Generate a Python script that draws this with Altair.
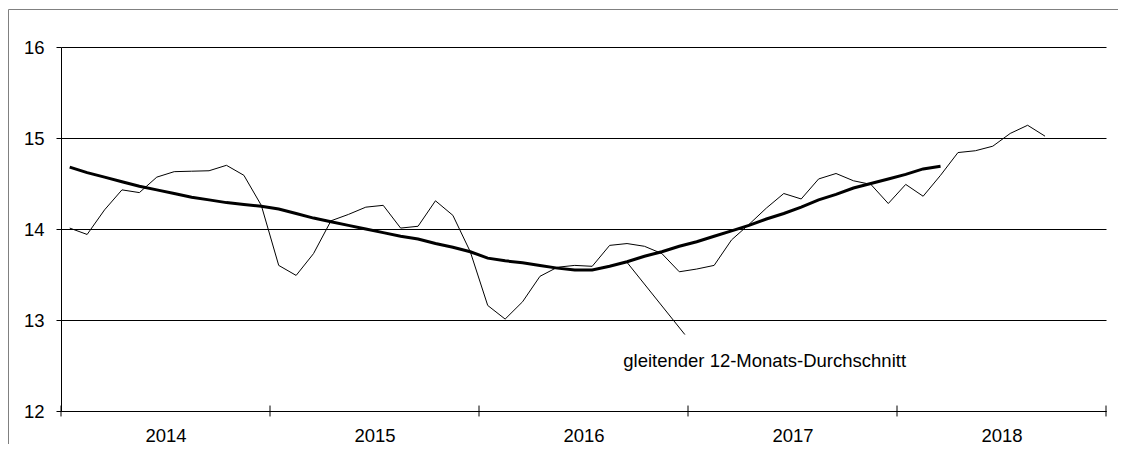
import altair as alt
import pandas as pd

years = ["2014", "2015", "2016", "2017", "2018"]
year_bounds = [0, 12, 24, 36, 48, 60]
year_centers = [6, 18, 30, 42, 54]
y_ticks = [12, 13, 14, 15, 16]

monthly = [14.01, 13.94, 14.21, 14.43, 14.40, 14.57, 14.63, 14.635, 14.64, 14.70, 14.59, 14.26,
           13.60, 13.49, 13.73, 14.09, 14.16, 14.24, 14.26, 14.01, 14.03, 14.31, 14.15, 13.75,
           13.16, 13.01, 13.20, 13.48, 13.58, 13.60, 13.59, 13.82, 13.84, 13.81, 13.73, 13.53,
           13.56, 13.60, 13.88, 14.05, 14.23, 14.39, 14.33, 14.55, 14.61, 14.53, 14.49, 14.28,
           14.49, 14.36, 14.59, 14.84, 14.86, 14.91, 15.05, 15.14, 15.02]

moving_avg = [14.68, 14.62, 14.57, 14.52, 14.47, 14.43, 14.39, 14.35, 14.32, 14.29, 14.27, 14.25,
              14.22, 14.17, 14.12, 14.08, 14.04, 14.00, 13.96, 13.92, 13.89, 13.84, 13.80, 13.75,
              13.68, 13.65, 13.63, 13.60, 13.57, 13.55, 13.55, 13.59, 13.64, 13.70, 13.75, 13.81,
              13.86, 13.92, 13.98, 14.04, 14.11, 14.17, 14.24, 14.32, 14.38, 14.45, 14.50, 14.55,
              14.60, 14.66, 14.69]

label_text = ["gleitender 12-Monats-Durchschnitt"]
label_x = [40.4]
label_y = [12.55]
leader_x = [32.47, 35.82]
leader_y = [13.64, 12.84]

FONT = "Liberation Sans"
FS = 18.5

df_m = pd.DataFrame({"m": [i + 0.5 for i in range(len(monthly))], "v": monthly})
df_a = pd.DataFrame({"m": [i + 0.5 for i in range(len(moving_avg))], "v": moving_avg})
df_b = pd.DataFrame({"m": year_bounds})
df_lbl = pd.DataFrame({"m": label_x, "v": label_y, "t": label_text})
df_lead = pd.DataFrame({"m": leader_x, "v": leader_y})
df_one = pd.DataFrame({"k": [0]})

xscale = alt.Scale(domain=[0, 60], nice=False, zero=False)
yscale = alt.Scale(domain=[12, 16], nice=False, zero=False)

x_axis = alt.Axis(values=year_centers, labelExpr=f"{years}[floor(datum.value/12)]",
                  tickSize=0, grid=False, title=None, domainColor="black",
                  labelFontSize=FS, labelPadding=15, labelColor="black", labelFont=FONT)
y_axis = alt.Axis(values=y_ticks, format="d", grid=True, gridColor="black", gridOpacity=1,
                  gridWidth=1, tickSize=5, tickColor="black", domainColor="black", title=None,
                  labelFontSize=FS, labelPadding=12, labelColor="black", labelFont=FONT)

base_x = alt.X("m:Q", scale=xscale, axis=x_axis)
base_y = alt.Y("v:Q", scale=yscale, axis=y_axis)

thin = alt.Chart(df_m).mark_line(color="black", strokeWidth=1).encode(x=base_x, y=base_y)
thick = alt.Chart(df_a).mark_line(color="black", strokeWidth=3).encode(x="m:Q", y="v:Q")
ticks = alt.Chart(df_b).mark_rule(color="black", strokeWidth=1).encode(
    x="m:Q", y=alt.datum(11.94), y2=alt.datum(12.06))
lead = alt.Chart(df_lead).mark_line(color="black", strokeWidth=1).encode(x="m:Q", y="v:Q")
lbl = alt.Chart(df_lbl).mark_text(font=FONT, fontSize=FS, align="center", baseline="middle",
                                  color="black").encode(x="m:Q", y="v:Q", text="t:N")

frame_top = alt.Chart(df_one).mark_rule(color="#808080", strokeWidth=1).encode(
    x=alt.value(-52.5), x2=alt.value(1057), y=alt.value(-37.5))
frame_left = alt.Chart(df_one).mark_rule(color="#808080", strokeWidth=1).encode(
    x=alt.value(-52.5), y=alt.value(-37.5), y2=alt.value(397))

chart = alt.layer(frame_top, frame_left, thin, thick, ticks, lead, lbl).properties(
    width=1045, height=364,
    autosize=alt.AutoSizeParams(type="none"),
    padding={"left": 53, "top": 39, "right": 12, "bottom": 33},
).configure_view(strokeWidth=0)

chart.save("out.html", embed_options={"renderer": "svg", "actions": False})
